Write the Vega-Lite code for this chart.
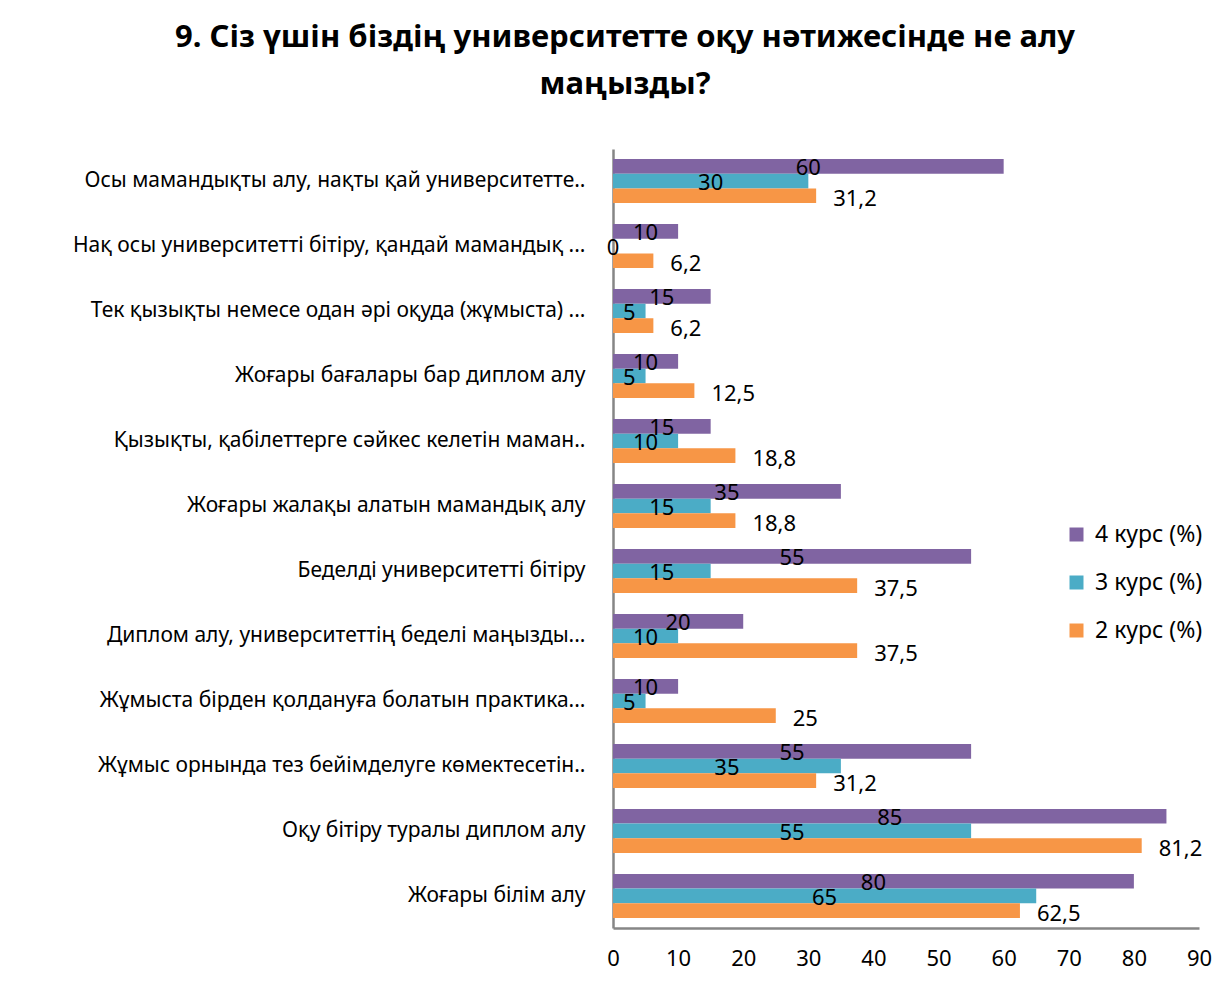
{
  "$schema": "https://vega.github.io/schema/vega-lite/v6.json",
  "autosize": {"type": "none"},
  "width": 586,
  "height": 779,
  "padding": {"left": 613, "top": 149, "right": 28, "bottom": 60},
  "background": "white",
  "config": {
    "font": "Noto Sans",
    "view": {"stroke": null},
    "locale": {"number": {"decimal": ",", "thousands": " ", "grouping": [3], "currency": ["", ""]}}
  },
  "title": {
    "text": ["9. Сіз үшін біздің университетте оқу нәтижесінде не алу", "маңызды?"],
    "font": "Noto Sans",
    "fontSize": 31,
    "fontWeight": "bold",
    "color": "#000000",
    "anchor": "middle",
    "frame": "group",
    "dx": -281,
    "offset": 48,
    "lineHeight": 47
  },
  "data": {
    "values": [
      {"cat": "Осы мамандықты алу, нақты қай университетте..", "series": "4 курс (%)", "value": 60},
      {"cat": "Осы мамандықты алу, нақты қай университетте..", "series": "3 курс (%)", "value": 30},
      {"cat": "Осы мамандықты алу, нақты қай университетте..", "series": "2 курс (%)", "value": 31.2},
      {"cat": "Нақ осы университетті бітіру, қандай мамандық ...", "series": "4 курс (%)", "value": 10},
      {"cat": "Нақ осы университетті бітіру, қандай мамандық ...", "series": "3 курс (%)", "value": 0},
      {"cat": "Нақ осы университетті бітіру, қандай мамандық ...", "series": "2 курс (%)", "value": 6.2},
      {"cat": "Тек қызықты немесе одан әрі оқуда (жұмыста) ...", "series": "4 курс (%)", "value": 15},
      {"cat": "Тек қызықты немесе одан әрі оқуда (жұмыста) ...", "series": "3 курс (%)", "value": 5},
      {"cat": "Тек қызықты немесе одан әрі оқуда (жұмыста) ...", "series": "2 курс (%)", "value": 6.2},
      {"cat": "Жоғары бағалары бар диплом алу", "series": "4 курс (%)", "value": 10},
      {"cat": "Жоғары бағалары бар диплом алу", "series": "3 курс (%)", "value": 5},
      {"cat": "Жоғары бағалары бар диплом алу", "series": "2 курс (%)", "value": 12.5},
      {"cat": "Қызықты, қабілеттерге сәйкес келетін маман..", "series": "4 курс (%)", "value": 15},
      {"cat": "Қызықты, қабілеттерге сәйкес келетін маман..", "series": "3 курс (%)", "value": 10},
      {"cat": "Қызықты, қабілеттерге сәйкес келетін маман..", "series": "2 курс (%)", "value": 18.8},
      {"cat": "Жоғары жалақы алатын мамандық алу", "series": "4 курс (%)", "value": 35},
      {"cat": "Жоғары жалақы алатын мамандық алу", "series": "3 курс (%)", "value": 15},
      {"cat": "Жоғары жалақы алатын мамандық алу", "series": "2 курс (%)", "value": 18.8},
      {"cat": "Беделді университетті бітіру", "series": "4 курс (%)", "value": 55},
      {"cat": "Беделді университетті бітіру", "series": "3 курс (%)", "value": 15},
      {"cat": "Беделді университетті бітіру", "series": "2 курс (%)", "value": 37.5},
      {"cat": "Диплом алу, университеттің беделі маңызды...", "series": "4 курс (%)", "value": 20},
      {"cat": "Диплом алу, университеттің беделі маңызды...", "series": "3 курс (%)", "value": 10},
      {"cat": "Диплом алу, университеттің беделі маңызды...", "series": "2 курс (%)", "value": 37.5},
      {"cat": "Жұмыста бірден қолдануға болатын практика...", "series": "4 курс (%)", "value": 10},
      {"cat": "Жұмыста бірден қолдануға болатын практика...", "series": "3 курс (%)", "value": 5},
      {"cat": "Жұмыста бірден қолдануға болатын практика...", "series": "2 курс (%)", "value": 25},
      {"cat": "Жұмыс орнында тез бейімделуге көмектесетін..", "series": "4 курс (%)", "value": 55},
      {"cat": "Жұмыс орнында тез бейімделуге көмектесетін..", "series": "3 курс (%)", "value": 35},
      {"cat": "Жұмыс орнында тез бейімделуге көмектесетін..", "series": "2 курс (%)", "value": 31.2},
      {"cat": "Оқу бітіру туралы диплом алу", "series": "4 курс (%)", "value": 85},
      {"cat": "Оқу бітіру туралы диплом алу", "series": "3 курс (%)", "value": 55},
      {"cat": "Оқу бітіру туралы диплом алу", "series": "2 курс (%)", "value": 81.2},
      {"cat": "Жоғары білім алу", "series": "4 курс (%)", "value": 80},
      {"cat": "Жоғары білім алу", "series": "3 курс (%)", "value": 65},
      {"cat": "Жоғары білім алу", "series": "2 курс (%)", "value": 62.5}
    ]
  },
  "encoding": {
    "y": {
      "field": "cat",
      "type": "nominal",
      "sort": null,
      "scale": {"paddingInner": 0.322, "paddingOuter": 0.154},
      "axis": {
        "title": null,
        "ticks": false,
        "domainColor": "#868686",
        "domainWidth": 2.5,
        "labelFontSize": 21,
        "labelColor": "#000000",
        "labelPadding": 28,
        "labelLimit": 600
      }
    },
    "yOffset": {
      "field": "series",
      "type": "nominal",
      "sort": ["4 курс (%)", "3 курс (%)", "2 курс (%)"],
      "scale": {"paddingInner": 0, "paddingOuter": 0}
    }
  },
  "layer": [
    {
      "mark": {"type": "bar"},
      "encoding": {
        "x": {
          "field": "value",
          "type": "quantitative",
          "scale": {"domain": [0, 90], "nice": false},
          "axis": {
            "title": null,
            "grid": false,
            "ticks": false,
            "values": [0, 10, 20, 30, 40, 50, 60, 70, 80, 90],
            "domainColor": "#868686",
            "domainWidth": 2.5,
            "labelFontSize": 22,
            "labelColor": "#000000",
            "labelPadding": 20,
            "labelFlush": false
          }
        },
        "color": {
          "field": "series",
          "type": "nominal",
          "sort": ["4 курс (%)", "3 курс (%)", "2 курс (%)"],
          "scale": {"domain": ["4 курс (%)", "3 курс (%)", "2 курс (%)"], "range": ["#8064A2", "#4BACC6", "#F79646"]},
          "legend": {
            "title": null,
            "orient": "none",
            "legendX": 452,
            "legendY": 374,
            "symbolType": "square",
            "symbolSize": 196,
            "symbolStrokeWidth": 0,
            "labelFontSize": 23,
            "labelColor": "#000000",
            "rowPadding": 24,
            "labelOffset": 7
          }
        }
      }
    },
    {
      "transform": [
        {"filter": "datum.series !== '2 курс (%)'"},
        {"calculate": "datum.value / 2", "as": "mid"}
      ],
      "mark": {"type": "text", "align": "center", "baseline": "middle", "fontSize": 22, "dy": 2, "color": "#000000"},
      "encoding": {
        "x": {"field": "mid", "type": "quantitative", "scale": {"domain": [0, 90], "nice": false}},
        "text": {"field": "value", "type": "quantitative", "format": "~g"}
      }
    },
    {
      "transform": [{"filter": "datum.series === '2 курс (%)'"}],
      "mark": {"type": "text", "align": "left", "baseline": "middle", "fontSize": 22, "dx": 17, "dy": 3, "color": "#000000"},
      "encoding": {
        "x": {"field": "value", "type": "quantitative", "scale": {"domain": [0, 90], "nice": false}},
        "text": {"field": "value", "type": "quantitative", "format": "~g"}
      }
    }
  ]
}
